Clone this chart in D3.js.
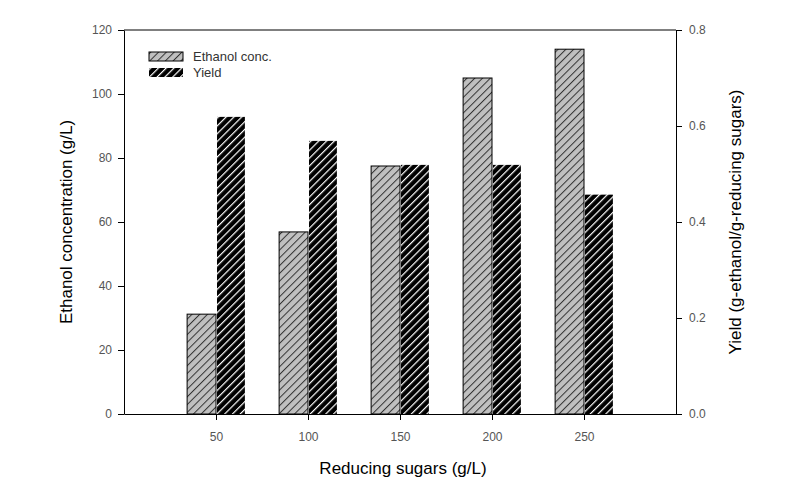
<!DOCTYPE html>
<html><head><meta charset="utf-8">
<script src="https://cdn.jsdelivr.net/npm/d3@7"></script>
<style>body{margin:0;background:#fff}svg{display:block}</style>
</head><body>
<script>
const categories = [50, 100, 150, 200, 250];
const ethanolConc = [31.2, 56.9, 77.5, 105, 114];
const yieldVals = [0.619, 0.569, 0.519, 0.519, 0.457];
const leftTicks = [0, 20, 40, 60, 80, 100, 120];
const rightTicks = [0.0, 0.2, 0.4, 0.6, 0.8];

const W = 796, H = 482;
const m = {l: 124, r: 120, t: 30, b: 68};
const svg = d3.select("body").append("svg").attr("width", W).attr("height", H);
const defs = svg.append("defs");
const ps = 5.5;
const p1 = defs.append("pattern").attr("id","hg").attr("patternUnits","userSpaceOnUse")
  .attr("width",ps).attr("height",ps).attr("patternTransform","rotate(45)");
p1.append("rect").attr("width",ps).attr("height",ps).attr("fill","#c0c0c0");
p1.append("line").attr("x1",0.5).attr("y1",0).attr("x2",0.5).attr("y2",ps).attr("stroke","#333").attr("stroke-width",1);
const p2 = defs.append("pattern").attr("id","hb").attr("patternUnits","userSpaceOnUse")
  .attr("width",ps).attr("height",ps).attr("patternTransform","rotate(45)");
p2.append("rect").attr("width",ps).attr("height",ps).attr("fill","#000");
p2.append("line").attr("x1",0.6).attr("y1",0).attr("x2",0.6).attr("y2",ps).attr("stroke","#fff").attr("stroke-width",1.2);

const x = d3.scaleLinear().domain([0, 300]).range([m.l, W - m.r]);
const yL = d3.scaleLinear().domain([0, 120]).range([H - m.b, m.t]);
const yR = d3.scaleLinear().domain([0, 0.8]).range([H - m.b, m.t]);
const bw = 15.7; // bar width in x-units

const g = svg.append("g");
g.selectAll(".eb").data(categories).join("rect")
  .attr("x", d => x(d - bw)).attr("width", d => x(d) - x(d - bw))
  .attr("y", (d,i) => yL(ethanolConc[i])).attr("height", (d,i) => yL(0) - yL(ethanolConc[i]))
  .attr("fill","url(#hg)").attr("stroke","#000").attr("stroke-width",1);
g.selectAll(".yb").data(categories).join("rect")
  .attr("x", d => x(d) + 1).attr("width", d => x(d + bw) - x(d) - 1)
  .attr("y", (d,i) => yR(yieldVals[i])).attr("height", (d,i) => yR(0) - yR(yieldVals[i]))
  .attr("fill","url(#hb)");

const tickFont = "Liberation Sans, Arial, sans-serif";
function style(ax){
  ax.select(".domain").attr("stroke","#000");
  ax.selectAll(".tick line").attr("stroke","#000");
  ax.selectAll(".tick text").attr("fill","#555").style("font-family",tickFont).style("font-size","12px");
}
const axL = svg.append("g").attr("transform",`translate(${m.l},0)`)
  .call(d3.axisLeft(yL).tickValues(leftTicks).tickSize(6).tickSizeOuter(0).tickPadding(6));
style(axL);
const axR = svg.append("g").attr("transform",`translate(${W-m.r},0)`)
  .call(d3.axisRight(yR).tickValues(rightTicks).tickSize(6).tickSizeOuter(0).tickPadding(7)
  .tickFormat(d3.format(".1f")));
style(axR);
const axB = svg.append("g").attr("transform",`translate(0,${H-m.b})`)
  .call(d3.axisBottom(x).tickValues(categories).tickSize(6).tickSizeOuter(0).tickPadding(12));
style(axB);
svg.append("line").attr("x1",m.l).attr("x2",W-m.r).attr("y1",m.t).attr("y2",m.t).attr("stroke","#000");

const titleFont = "Liberation Sans, Arial, sans-serif";
svg.append("text").attr("x",(m.l+W-m.r)/2+3).attr("y",474).attr("text-anchor","middle")
  .style("font-family",titleFont).style("font-size","17px").text("Reducing sugars (g/L)");
svg.append("text").attr("transform",`translate(72,222) rotate(-90)`).attr("text-anchor","middle")
  .style("font-family",titleFont).style("font-size","17px").text("Ethanol concentration (g/L)");
svg.append("text").attr("transform",`translate(741,222) rotate(-90)`).attr("text-anchor","middle")
  .style("font-family",titleFont).style("font-size","17px").text("Yield (g-ethanol/g-reducing sugars)");

const leg = [{label:"Ethanol conc.", fill:"url(#hg)", stroke:"#000"},{label:"Yield", fill:"url(#hb)", stroke:"none"}];
leg.forEach((d,i)=>{
  svg.append("rect").attr("x",149).attr("y",52+i*16).attr("width",34).attr("height",9)
    .attr("fill",d.fill).attr("stroke",d.stroke);
  svg.append("text").attr("x",193).attr("y",61+i*16).style("font-family",tickFont)
    .style("font-size","13px").attr("fill","#333").text(d.label);
});
</script>
</body></html>
